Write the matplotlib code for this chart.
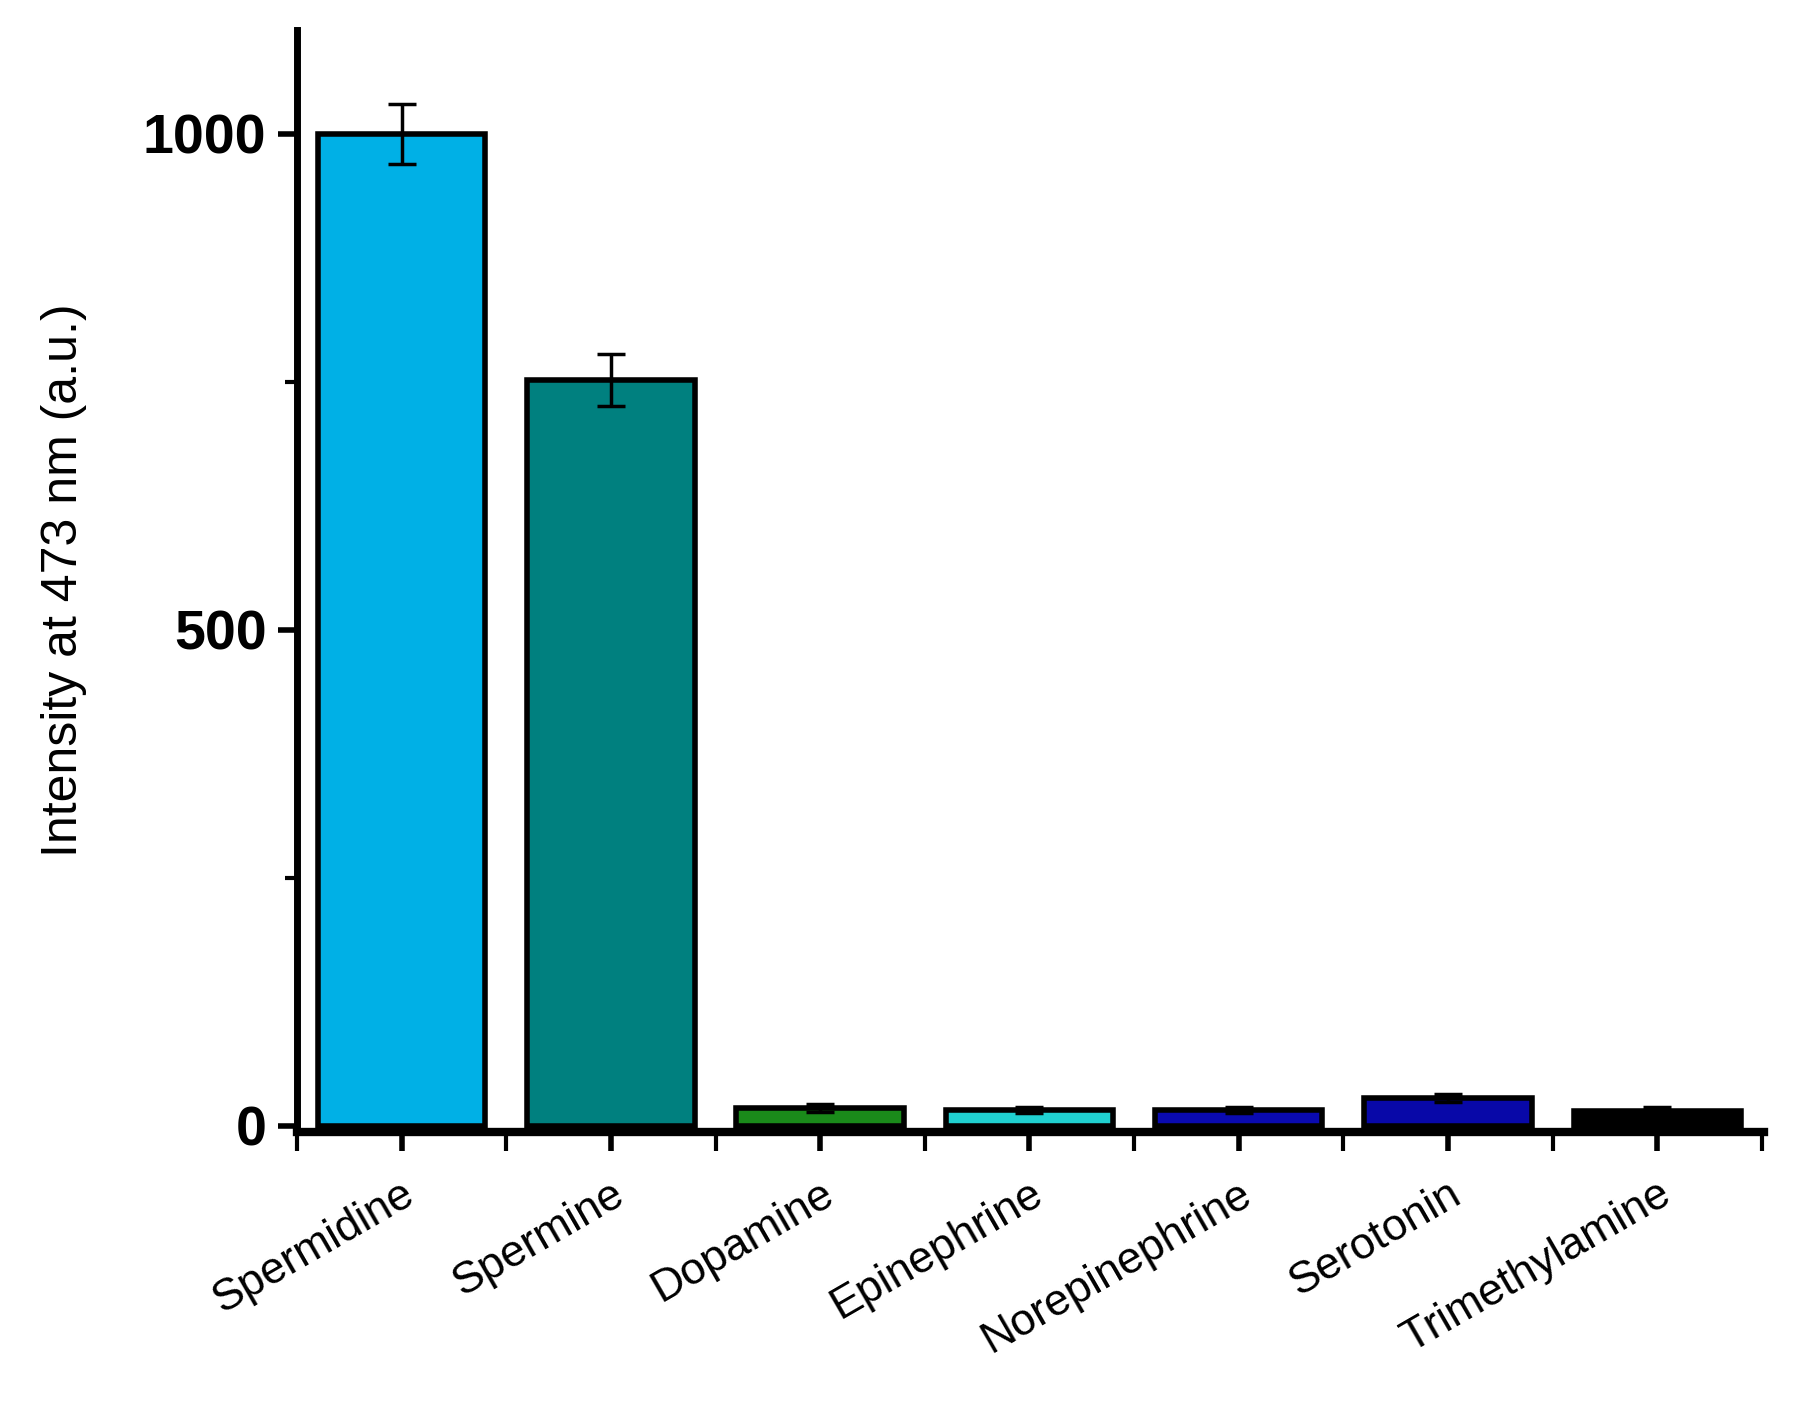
import matplotlib
matplotlib.use('Agg')
import matplotlib.pyplot as plt

# data
names = ['Spermidine', 'Spermine', 'Dopamine', 'Epinephrine',
         'Norepinephrine', 'Serotonin', 'Trimethylamine']
values = [1000, 752, 18, 16, 16, 28, 15]
errors = [30, 26, 4, 3, 3, 4, 4]
colors = ['#00b0e6', '#00807f', '#1a8a1a', '#20d0d0', '#0a0ab0', '#0808a8', '#000000']

plt.rcParams['font.family'] = ['Liberation Sans', 'DejaVu Sans']

fig = plt.figure(figsize=(18, 14.11), dpi=100)
ax = fig.add_axes([0.165, 0.198, 0.815, 0.781])

x = list(range(len(names)))
ax.bar(x, values, width=0.8, color=colors, edgecolor='black', linewidth=4, zorder=2)
ax.errorbar(x, values, yerr=errors, fmt='none', ecolor='black',
            elinewidth=2.5, capsize=10, capthick=2.5, zorder=3)

ax.set_xlim(-0.48, 6.51)
ax.set_ylim(-6, 1105)

for s in ['top', 'right']:
    ax.spines[s].set_visible(False)
ax.spines['left'].set_linewidth(5)
ax.spines['bottom'].set_linewidth(6)

ax.set_yticks([0, 500, 1000])
ax.set_yticks([250, 750], minor=True)
ax.tick_params(axis='y', which='major', length=14, width=4, labelsize=40, pad=8)
ax.tick_params(axis='y', which='minor', length=9, width=3)
ax.set_yticklabels(['0', '500', '1000'], fontweight='bold')

ax.set_xticks(x)
ax.set_xticks([i + 0.5 for i in range(-1, 7)], minor=True)
ax.tick_params(axis='x', which='major', length=14, width=4, labelsize=32, pad=16)
ax.tick_params(axis='x', which='minor', length=14, width=3)
ax.set_xticklabels(names, rotation=30, ha='right', rotation_mode='anchor')

ax.set_ylabel('Intensity at 473 nm (a.u.)', fontsize=36, labelpad=40)

plt.savefig('out.png', dpi=100)
